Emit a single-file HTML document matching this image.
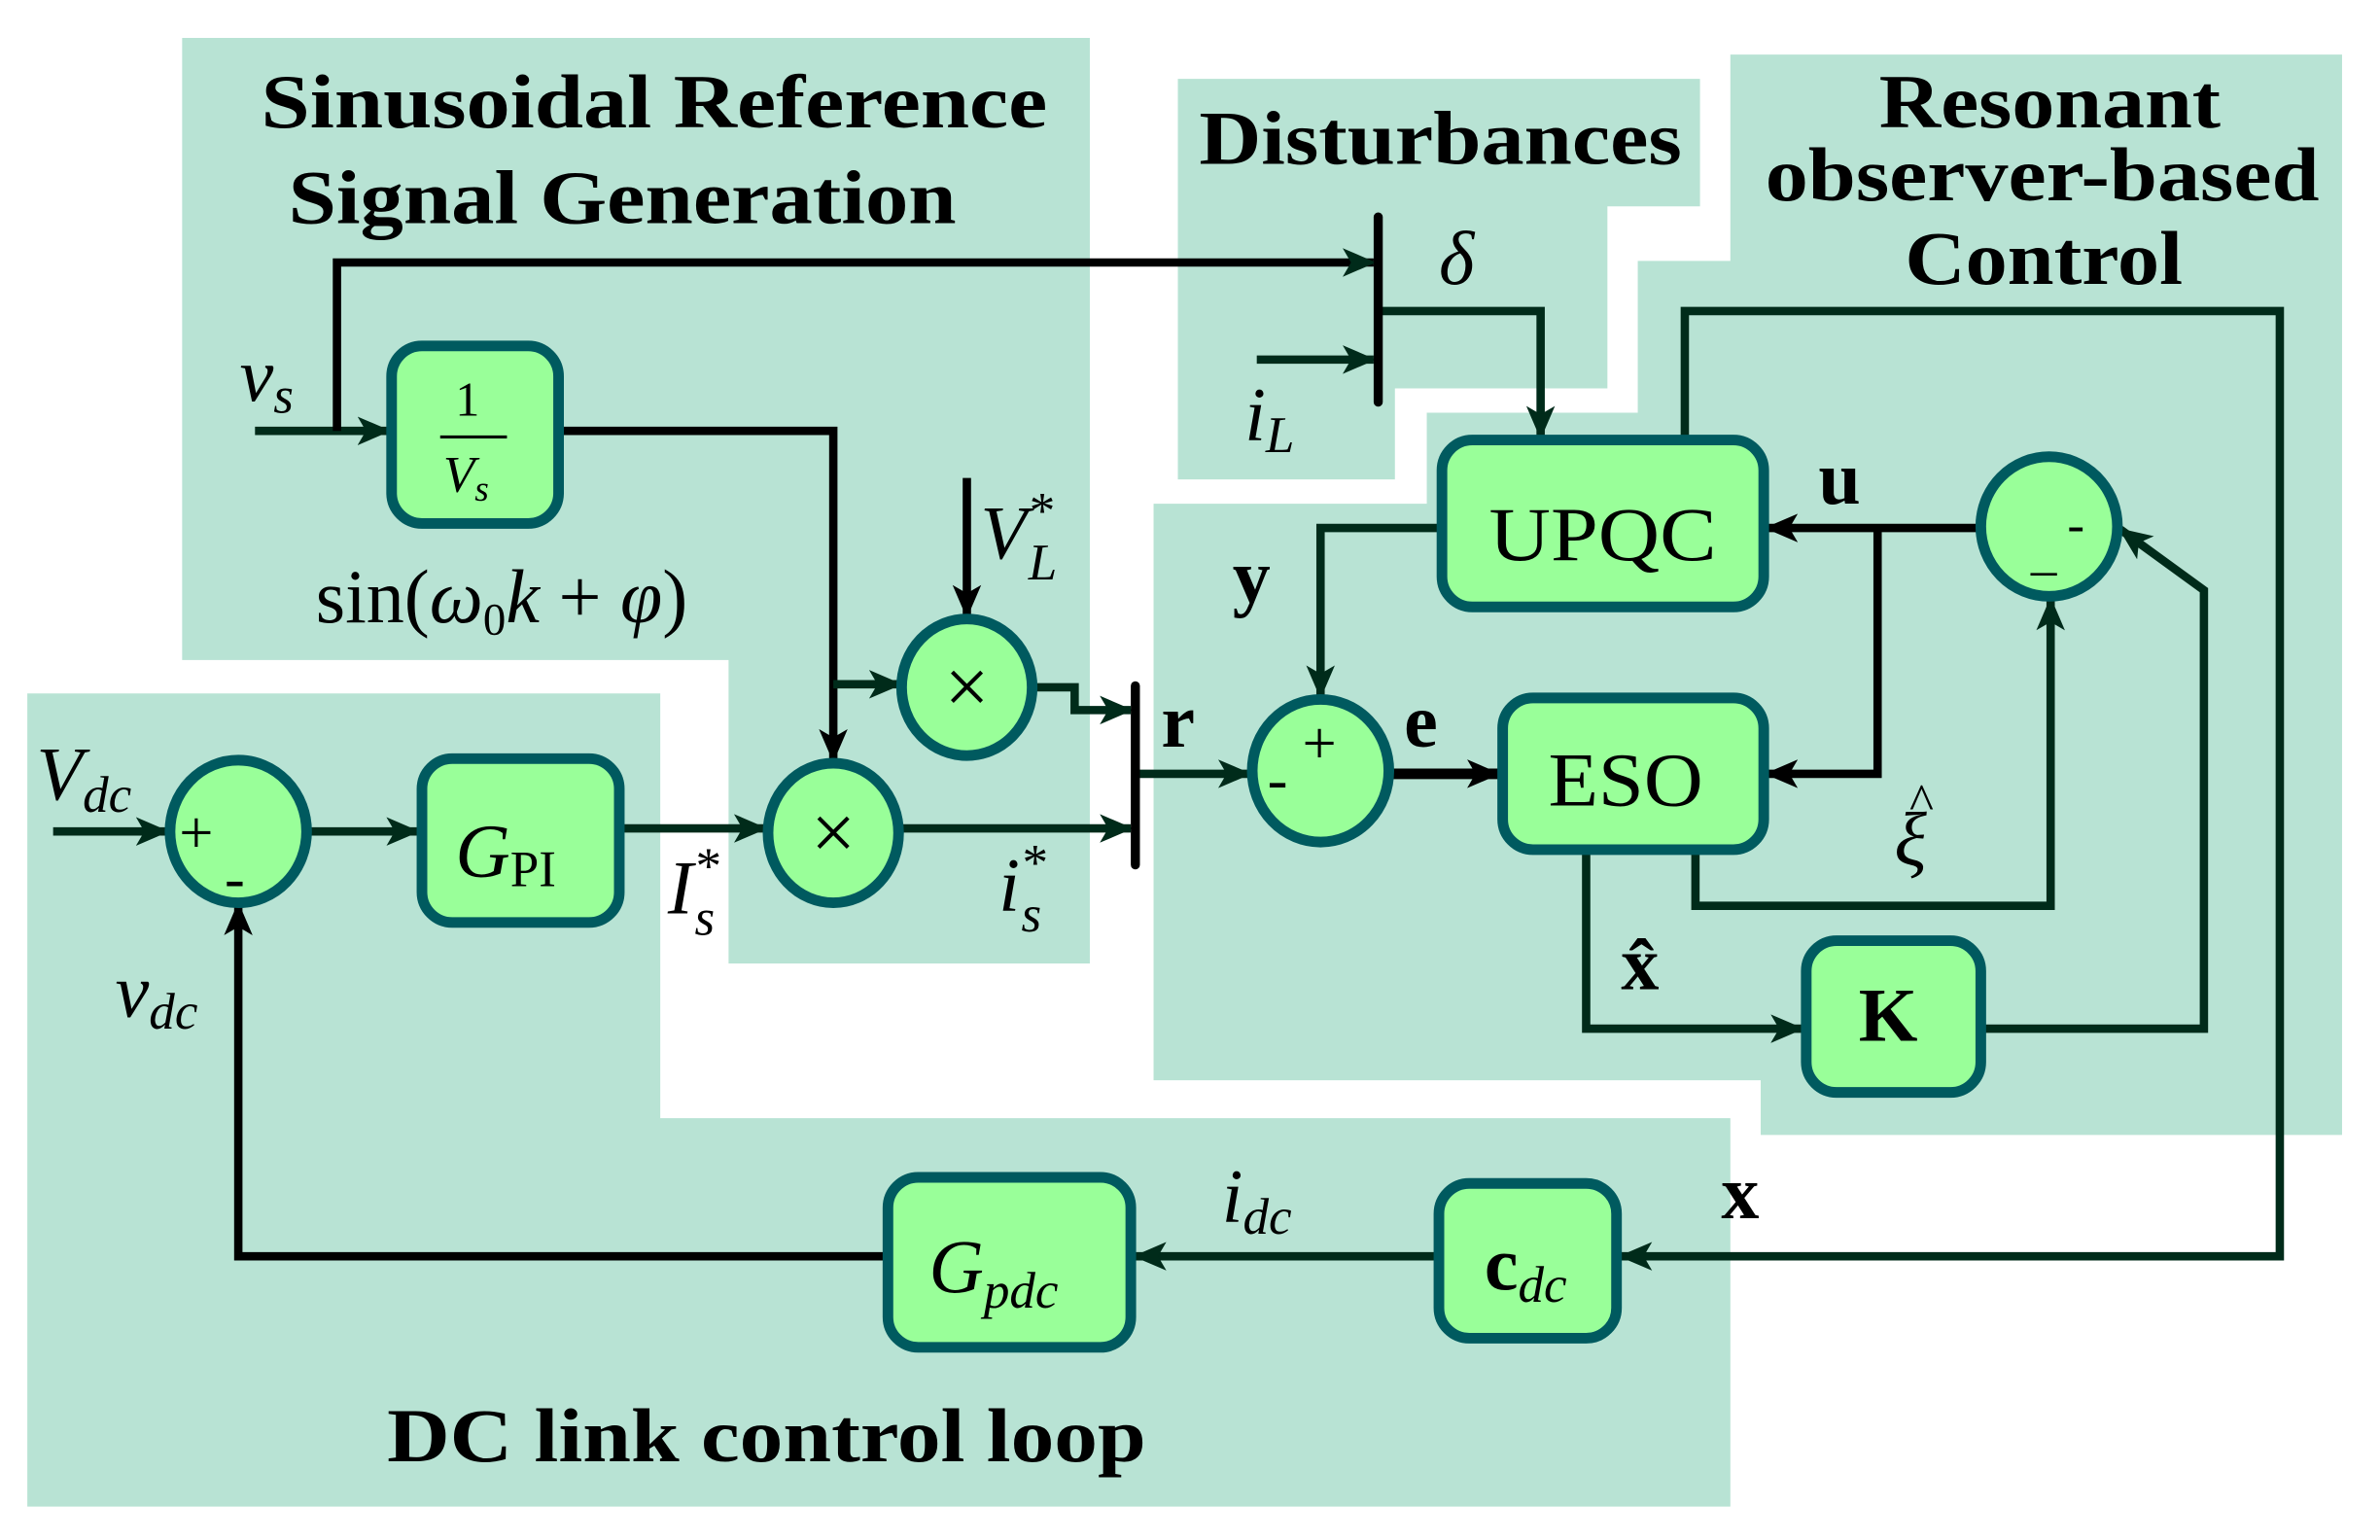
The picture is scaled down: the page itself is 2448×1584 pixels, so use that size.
<!DOCTYPE html>
<html><head><meta charset="utf-8"><style>
html,body{margin:0;padding:0;background:#fff;}
svg{display:block;}
text{font-family:"Liberation Serif",serif;fill:#000;}
.t{font-weight:bold;font-size:50px;}
.i{font-style:italic;}
.b{font-weight:bold;}
</style></head><body>
<svg width="2448" height="1584" viewBox="0 0 1568 1015" preserveAspectRatio="none" xmlns="http://www.w3.org/2000/svg">
<defs>
<marker id="a" viewBox="0 0 14 12" refX="13" refY="6" markerWidth="22" markerHeight="19" markerUnits="userSpaceOnUse" orient="auto">
<path d="M0,0 L14,6 L0,12 L3.5,6 z" fill="#002b1a"/></marker>
<marker id="k" viewBox="0 0 14 12" refX="13" refY="6" markerWidth="22" markerHeight="19" markerUnits="userSpaceOnUse" orient="auto">
<path d="M0,0 L14,6 L0,12 L3.5,6 z" fill="#000"/></marker>
</defs>
<g fill="#b8e3d4">
<polygon points="120,25 718,25 718,635 480,635 480,435 120,435"/>
<polygon points="776,52 1120,52 1120,136 1059,136 1059,256 919,256 919,316 776,316"/>
<polygon points="1140,36 1543,36 1543,748 1160,748 1160,712 760,712 760,332 940,332 940,272 1079,272 1079,172 1140,172"/>
<polygon points="18,457 435,457 435,737 1140,737 1140,993 18,993"/>
</g>
<text class="t" x="172" y="84" textLength="518" lengthAdjust="spacingAndGlyphs">Sinusoidal Reference</text>
<text class="t" x="190" y="147" textLength="440" lengthAdjust="spacingAndGlyphs">Signal Generation</text>
<text class="t" x="790" y="108" textLength="318" lengthAdjust="spacingAndGlyphs">Disturbances</text>
<text class="t" x="1238" y="84" textLength="225" lengthAdjust="spacingAndGlyphs">Resonant</text>
<text class="t" x="1163" y="132" textLength="365" lengthAdjust="spacingAndGlyphs">observer-based</text>
<text class="t" x="1255" y="187" textLength="183" lengthAdjust="spacingAndGlyphs">Control</text>
<text class="t" x="255" y="963" textLength="500" lengthAdjust="spacingAndGlyphs">DC link control loop</text>

<g fill="none" stroke="#002b1a" stroke-width="5.5">
<path d="M168,284 H256" marker-end="url(#a)"/>
<path d="M222,284 V173 H905" stroke="#000" marker-end="url(#a)"/>
<path d="M828,237 H905" marker-end="url(#a)"/>
<path d="M908,205 H1015 V288" marker-end="url(#a)"/>
<path d="M368,284 H549 V501" stroke="#000" marker-end="url(#k)"/>
<path d="M549,451 H593" marker-end="url(#a)"/>
<path d="M637,315 V406" stroke="#000" marker-end="url(#k)"/>
<path d="M681,453 H708 V468 H745" marker-end="url(#a)"/>
<path d="M593,546 H745" marker-end="url(#a)"/>
<path d="M35,548 H110" marker-end="url(#a)"/>
<path d="M203,548 H275" marker-end="url(#a)"/>
<path d="M408,546 H504" marker-end="url(#a)"/>
<path d="M585,828 H157 V596" stroke="#000" marker-end="url(#k)"/>
<path d="M948,828 H748" marker-end="url(#a)"/>
<path d="M1110,290 V205 H1502 V828 H1068" marker-end="url(#a)"/>
<path d="M950,348 H870 V459" marker-end="url(#a)"/>
<path d="M748,510 H823" marker-end="url(#a)"/>
<path d="M915,510 H987" stroke="#000" stroke-width="7" marker-end="url(#k)"/>
<path d="M1305,348 H1164" stroke="#000" marker-end="url(#k)"/>
<path d="M1237,348 V510 H1164" stroke="#000" marker-end="url(#k)"/>
<path d="M1117,560 V597 H1351 V395" marker-end="url(#a)"/>
<path d="M1045,560 V678 H1187" marker-end="url(#a)"/>
<path d="M1305,678 H1452 V389 L1397,349" marker-end="url(#a)"/>
</g>
<g stroke="#000" stroke-width="6" stroke-linecap="round">
<line x1="908" y1="143" x2="908" y2="265"/>
<line x1="748" y1="452" x2="748" y2="570"/>
</g>

<g fill="#99ff99" stroke="#005a5f" stroke-width="7">
<rect x="258" y="228" width="110" height="117" rx="20"/>
<rect x="278" y="500" width="130" height="108" rx="20"/>
<rect x="585" y="776" width="160" height="112" rx="20"/>
<rect x="948" y="780" width="117" height="102" rx="20"/>
<rect x="950" y="290" width="212" height="110" rx="20"/>
<rect x="990" y="460" width="172" height="100" rx="20"/>
<rect x="1190" y="620" width="115" height="100" rx="20"/>
<ellipse cx="637" cy="453" rx="43" ry="45"/>
<ellipse cx="549" cy="549" rx="43" ry="46"/>
<ellipse cx="157" cy="548" rx="45" ry="47"/>
<ellipse cx="870" cy="508" rx="45" ry="47"/>
<ellipse cx="1350" cy="347" rx="45" ry="46"/>
</g>

<g font-size="50">
<text x="300" y="274" font-size="32">1</text>
<line x1="290" y1="288" x2="334" y2="288" stroke="#000" stroke-width="2"/>
<text x="292" y="324" font-size="34" class="i">V<tspan font-size="24" dy="6">s</tspan></text>
<text x="300" y="578" class="i">G<tspan font-size="34" dy="6" font-style="normal">PI</tspan></text>
<text x="612" y="852" class="i">G<tspan font-size="34" dy="10">pdc</tspan></text>
<text x="978" y="850" class="b">c<tspan font-size="34" dy="8" class="i" font-weight="normal">dc</tspan></text>
<text x="1056" y="369" text-anchor="middle" textLength="150" lengthAdjust="spacingAndGlyphs">UPQC</text>
<text x="1071" y="531" text-anchor="middle" textLength="102" lengthAdjust="spacingAndGlyphs">ESO</text>
<text x="1244" y="686" text-anchor="middle" class="b">K</text>
<text x="637" y="470" text-anchor="middle" font-size="52">×</text>
<text x="549" y="566" text-anchor="middle" font-size="52">×</text>
<text x="118" y="562" font-size="40">+</text>
<text x="148" y="592" font-size="40">-</text>
<text x="835" y="527" font-size="40">-</text>
<text x="858" y="503" font-size="40">+</text>
<text x="1362" y="357" font-size="34">-</text>
<text x="1338" y="375" font-size="34">_</text>

<text x="158" y="264" class="i">v<tspan font-size="34" dy="8">s</tspan></text>
<text x="208" y="410">sin(<tspan class="i">ω</tspan><tspan font-size="30" dy="8">0</tspan><tspan dy="-8" class="i">k</tspan> + <tspan class="i">φ</tspan>)</text>
<text x="646" y="368" class="i">V<tspan font-size="34" dy="-20">*</tspan><tspan font-size="34" dx="-16" dy="34">L</tspan></text>
<text x="948" y="187" class="i">δ</text>
<text x="820" y="290" class="i">i<tspan font-size="34" dy="8">L</tspan></text>
<text x="765" y="492" class="b">r</text>
<text x="925" y="492" class="b">e</text>
<text x="812" y="397" class="b">y</text>
<text x="1198" y="332" class="b">u</text>
<text x="1248" y="570" class="i">ξ</text>
<text x="1258" y="540" font-size="34">^</text>
<text x="1068" y="652" class="b">x̂</text>
<text x="1134" y="803" class="b">x</text>
<text x="440" y="602" class="i">I<tspan font-size="34" dy="-20">*</tspan><tspan font-size="34" dx="-16" dy="34">s</tspan></text>
<text x="658" y="600" class="i">i<tspan font-size="34" dy="-20">*</tspan><tspan font-size="34" dx="-16" dy="34">s</tspan></text>
<text x="24" y="527" class="i">V<tspan font-size="34" dy="8">dc</tspan></text>
<text x="76" y="670" class="i">v<tspan font-size="34" dy="8">dc</tspan></text>
<text x="805" y="805" class="i">i<tspan font-size="34" dy="8">dc</tspan></text>
</g>
</svg>
</body></html>
